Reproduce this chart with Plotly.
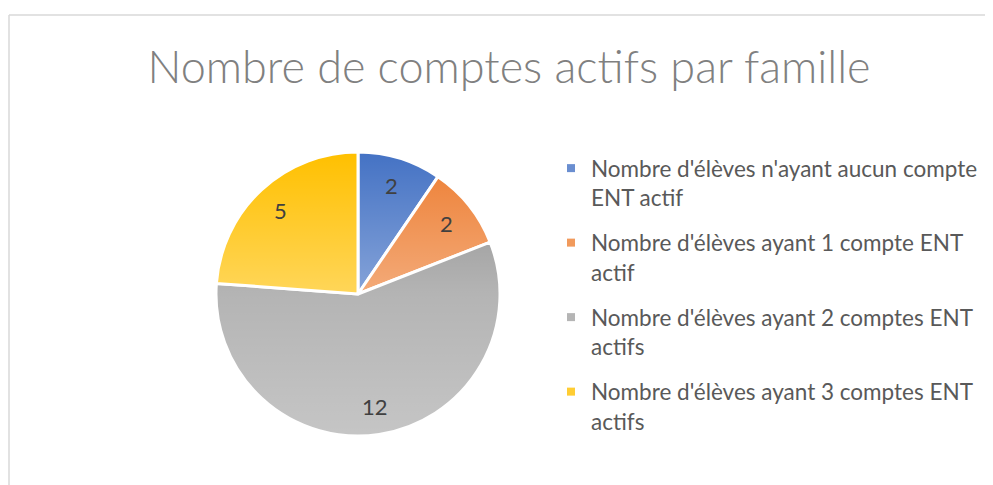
import base64
import math
import plotly.graph_objects as go

categories = [
    "Nombre d'élèves n'ayant aucun compte ENT actif",
    "Nombre d'élèves ayant 1 compte ENT actif",
    "Nombre d'élèves ayant 2 comptes ENT actifs",
    "Nombre d'élèves ayant 3 comptes ENT actifs",
]
legend_labels = [
    "Nombre d'élèves n'ayant aucun compte<br>ENT actif",
    "Nombre d'élèves ayant 1 compte ENT<br>actif",
    "Nombre d'élèves ayant 2 comptes ENT<br>actifs",
    "Nombre d'élèves ayant 3 comptes ENT<br>actifs",
]
values = [2, 2, 12, 5]
# slice base colours (a white gradient overlay lightens them towards the bottom)
colors = ["#4472C4", "#ED7D31", "#8C8C8C", "#FFC000"]
legend_colors = ["#6A8ED0", "#F19A5C", "#B5B5B5", "#FFCD33"]
title = "Nombre de comptes actifs par famille"

# page has an 8px body margin; reference pixel coords are converted to figure coords
OFF = 8
W, H = 985, 477


def fx(x):
    return (x - OFF) / W


def fy(y):
    return 1 - (y - OFF) / H


cx, cy, r = 358, 294, 142  # reference pixels

fig = go.Figure()
fig.add_trace(
    go.Pie(
        labels=categories,
        values=values,
        sort=False,
        direction="clockwise",
        rotation=0,
        marker=dict(colors=colors, line=dict(color="white", width=3)),
        textinfo="none",
        showlegend=False,
        domain=dict(x=[fx(cx - r), fx(cx + r)], y=[fy(cy + r), fy(cy - r)]),
        hoverinfo="label+value",
    )
)

# legend entries (one group per category to get Excel-like spacing)
for lab, col in zip(legend_labels, legend_colors):
    fig.add_trace(
        go.Scatter(
            x=[None], y=[None], mode="markers", name=lab, legendgroup=lab,
            marker=dict(symbol="square", size=8, color=col),
            hoverinfo="skip",
        )
    )

# data labels at 0.8 R along each slice's mid angle
annotations = []
total = sum(values)
cum = 0
for v in values:
    mid = (cum + v / 2) / total * 2 * math.pi
    cum += v
    lx = cx + 0.8 * r * math.sin(mid)
    ly = cy - 0.8 * r * math.cos(mid)
    annotations.append(
        dict(x=fx(lx), y=fy(ly), xref="paper", yref="paper", text=str(v), showarrow=False,
             xanchor="center", yanchor="middle",
             font=dict(family="Lato", size=22, color="#404040"))
    )

grad_svg = (
    "<svg xmlns='http://www.w3.org/2000/svg' width='100' height='100' preserveAspectRatio='none'>"
    "<defs><linearGradient id='g' x1='0' y1='0' x2='0' y2='1'>"
    "<stop offset='0' stop-color='white' stop-opacity='0'/>"
    "<stop offset='0.5' stop-color='white' stop-opacity='0.35'/>"
    "<stop offset='1' stop-color='white' stop-opacity='0.5'/>"
    "</linearGradient></defs><rect width='100' height='100' fill='url(#g)'/></svg>"
)
grad_src = "data:image/svg+xml;base64," + base64.b64encode(grad_svg.encode()).decode()

fig.update_layout(
    width=W,
    height=H,
    margin=dict(l=0, r=0, t=0, b=0),
    paper_bgcolor="white",
    plot_bgcolor="white",
    xaxis=dict(visible=False),
    yaxis=dict(visible=False),
    title=dict(
        text=title,
        x=fx(509),
        xanchor="center",
        y=fy(67),
        yanchor="middle",
        font=dict(family="Lato", size=45, color="#808080", weight=300),
    ),
    legend=dict(
        x=fx(591) - 40 / W,
        xanchor="left",
        y=fy(147),
        yanchor="top",
        valign="top",
        font=dict(family="Lato", size=22.5, color="#595959"),
        itemwidth=30,
        tracegroupgap=13,
        traceorder="grouped",
        bgcolor="rgba(0,0,0,0)",
    ),
    annotations=annotations,
    images=[
        dict(source=grad_src, xref="paper", yref="paper", x=fx(cx - r), y=fy(cy - r),
             sizex=2 * r / W, sizey=2 * r / H, sizing="stretch", xanchor="left", yanchor="top",
             layer="above")
    ],
    shapes=[
        dict(type="line", xref="paper", yref="paper", x0=fx(9), x1=1.01, y0=fy(15), y1=fy(15),
             line=dict(color="#D9D9D9", width=1.5)),
        dict(type="line", xref="paper", yref="paper", x0=fx(9), x1=fx(9), y0=fy(15), y1=-0.01,
             line=dict(color="#D9D9D9", width=1.5)),
    ],
)

fig.write_html("out.html")
